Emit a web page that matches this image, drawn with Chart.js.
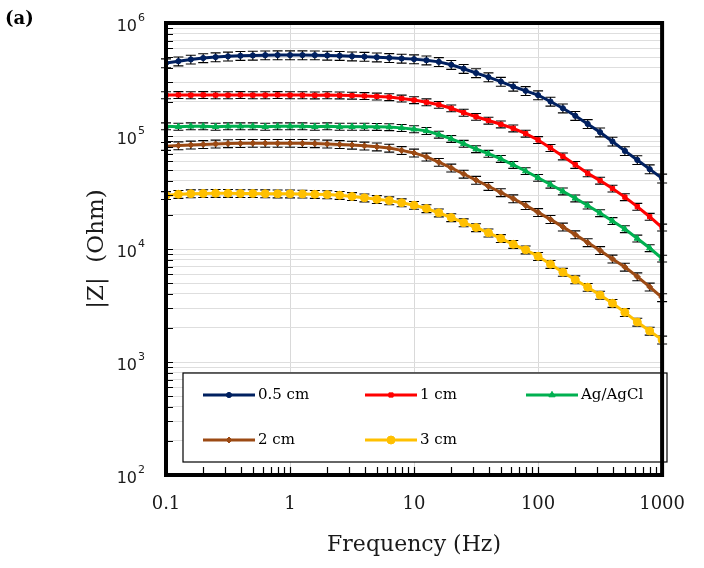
<!DOCTYPE html>
<html>
<head>
<meta charset="utf-8">
<script src="https://cdn.jsdelivr.net/npm/chart.js@4.4.0/dist/chart.umd.min.js"></script>
<style>
  html, body { margin: 0; padding: 0; background: #fff; }
</style>
</head>
<body>
<canvas id="mainChart" width="704" height="568"></canvas>
<script>
// Frecuencias (Hz), 10 puntos por década
const freqs = [0.1, 0.1259, 0.1585, 0.1995, 0.2512, 0.3162, 0.3981, 0.5012, 0.631, 0.7943,
    1, 1.259, 1.585, 1.995, 2.512, 3.162, 3.981, 5.012, 6.31, 7.943,
    10, 12.59, 15.85, 19.95, 25.12, 31.62, 39.81, 50.12, 63.1, 79.43,
    100, 125.9, 158.5, 199.5, 251.2, 316.2, 398.1, 501.2, 631, 794.3, 1000];

// |Z| (Ohm) por serie
const z05 = [442000, 459000, 476000, 490000, 499000, 507000, 513000, 516000, 519000, 520000,
    520000, 520000, 519000, 516000, 513000, 508000, 504000, 498000, 492000, 485000,
    479000, 468000, 453000, 427000, 394000, 361000, 332000, 303000, 274000, 251000,
    230000, 202000, 176000, 151000, 128000, 108000, 89500, 73800, 61400, 50900, 42200];
const z1 = [230000, 231000, 230000, 231000, 230000, 230000, 231000, 230000, 230000, 231000,
    230000, 230000, 229000, 230000, 229000, 228000, 226000, 224000, 221000, 215000,
    208000, 199000, 189000, 176000, 161000, 148000, 137000, 127000, 117000, 105000,
    92300, 78500, 66100, 55600, 46800, 40300, 34300, 28800, 23700, 19300, 15500];
const zAg = [122000, 121000, 122000, 122000, 121000, 122000, 122000, 122000, 121000, 122000,
    122000, 122000, 121000, 122000, 121000, 121000, 121000, 120500, 120000, 118000,
    115000, 111000, 103000, 94400, 85500, 76700, 69700, 62800, 55600, 49000,
    42700, 37200, 32400, 28100, 24300, 20800, 17700, 15000, 12400, 10200, 8240];
const z2 = [81100, 82200, 83400, 84300, 85100, 85700, 86100, 86300, 86300, 86300,
    86300, 86100, 85700, 85100, 84300, 83200, 81800, 80200, 78200, 74600,
    70800, 65300, 58600, 52200, 46100, 40700, 35900, 31600, 27900, 24300,
    21100, 18300, 15700, 13400, 11400, 9710, 8170, 6920, 5690, 4620, 3720];
const z3 = [29800, 30500, 30900, 31000, 31100, 31100, 31000, 31000, 30900, 30800,
    30800, 30700, 30500, 30300, 29900, 29200, 28400, 27500, 26800, 25700,
    24400, 22800, 20900, 19000, 17100, 15500, 13900, 12400, 11000, 9840,
    8610, 7330, 6240, 5350, 4590, 3910, 3310, 2750, 2260, 1880, 1570];

const seriesNames = ['0.5 cm', '1 cm', 'Ag/AgCl', '2 cm', '3 cm'];
const seriesColors = ['#002060', '#ff0000', '#00b050', '#9c4a14', '#ffc000'];
const seriesMarkers = ['circle', 'rect', 'triangle', 'rectRot', 'circle'];
const markerSizes = [2.6, 3, 3.6, 3, 4];
// error relativo (barras)
const relErr = [0.09, 0.07, 0.07, 0.08, 0.08];

// Ejes
const xMajor = [0.1, 1, 10, 100, 1000];
const xTickLabels = ['0.1', '1', '10', '100', '1000'];
const yMajor = [1e2, 1e3, 1e4, 1e5, 1e6];
const yExponents = ['2', '3', '4', '5', '6'];
const minorSteps = [2, 3, 4, 5, 6, 7, 8, 9];

function logTicks(majors) {
    let out = [];
    majors.forEach((m, i) => {
        out.push(m);
        if (i < majors.length - 1) minorSteps.forEach(s => out.push(m * s));
    });
    return out;
}
const xTickVals = logTicks(xMajor);
const yTickVals = logTicks(yMajor);

const allSeries = [z05, z1, zAg, z2, z3];

const datasets = allSeries.map((vals, k) => ({
    label: seriesNames[k],
    data: freqs.map((f, i) => ({ x: f, y: vals[i] })),
    borderColor: seriesColors[k],
    backgroundColor: seriesColors[k],
    borderWidth: 3,
    pointStyle: seriesMarkers[k],
    pointRadius: markerSizes[k],
    pointBorderWidth: 1,
    tension: 0
}));

const serif = "'DejaVu Serif', serif";

const decor = {
    id: 'decor',
    beforeDatasetsDraw(chart) {
        const ctx = chart.ctx;
        const x = chart.scales.x, y = chart.scales.y;
        ctx.save();
        ctx.strokeStyle = '#000';
        ctx.lineWidth = 1.1;
        chart.data.datasets.forEach((ds, k) => {
            const e = relErr[k];
            ds.data.forEach(p => {
                const px = x.getPixelForValue(p.x);
                const yt = y.getPixelForValue(p.y * (1 + e));
                const yb = y.getPixelForValue(p.y * (1 - e));
                ctx.beginPath();
                ctx.moveTo(px, yt); ctx.lineTo(px, yb);
                ctx.moveTo(px - 5, yt); ctx.lineTo(px + 5, yt);
                ctx.moveTo(px - 5, yb); ctx.lineTo(px + 5, yb);
                ctx.stroke();
            });
        });
        ctx.restore();
    },
    afterDraw(chart) {
        const ctx = chart.ctx;
        const a = chart.chartArea;
        const x = chart.scales.x, y = chart.scales.y;
        ctx.save();

        // marcas internas
        ctx.strokeStyle = '#000';
        ctx.lineWidth = 1.2;
        ctx.beginPath();
        yTickVals.forEach(v => {
            const py = Math.round(y.getPixelForValue(v)) + 0.5;
            ctx.moveTo(a.left, py); ctx.lineTo(a.left + 7, py);
        });
        xTickVals.forEach(v => {
            const px = Math.round(x.getPixelForValue(v)) + 0.5;
            ctx.moveTo(px, a.bottom); ctx.lineTo(px, a.bottom - 8);
        });
        ctx.stroke();

        // leyenda
        const lx = 183, ly = 373, lw = 484, lh = 89;
        ctx.fillStyle = '#fff';
        ctx.fillRect(lx, ly, lw, lh);
        ctx.lineWidth = 1.2;
        ctx.strokeStyle = '#000';
        ctx.strokeRect(lx, ly, lw, lh);
        const colX = [203, 365, 526];
        const rowY = [395, 440];
        chart.data.datasets.forEach((ds, k) => {
            const sx = colX[k % 3], sy = rowY[Math.floor(k / 3)];
            ctx.strokeStyle = ds.borderColor;
            ctx.fillStyle = ds.backgroundColor;
            ctx.lineWidth = 3;
            ctx.beginPath();
            ctx.moveTo(sx, sy); ctx.lineTo(sx + 52, sy);
            ctx.stroke();
            ctx.lineWidth = 1;
            Chart.helpers.drawPoint(ctx, { pointStyle: ds.pointStyle, radius: ds.pointRadius, rotation: 0, borderWidth: 1 }, sx + 26, sy);
            ctx.fillStyle = '#000';
            ctx.font = '15px ' + serif;
            ctx.textAlign = 'left';
            ctx.textBaseline = 'middle';
            ctx.fillText(ds.label, sx + 55, sy);
        });

        // marco
        ctx.strokeStyle = '#000';
        ctx.lineWidth = 4;
        ctx.strokeRect(a.left, a.top, a.right - a.left, a.bottom - a.top);

        // etiquetas eje Y (10^n)
        ctx.fillStyle = '#1a1a1a';
        yMajor.forEach((v, i) => {
            const py = y.getPixelForValue(v);
            ctx.font = "16px 'DejaVu Sans', sans-serif";
            ctx.textAlign = 'right';
            ctx.textBaseline = 'middle';
            ctx.fillText('10', 137, py + 4);
            ctx.font = "11px 'DejaVu Sans', sans-serif";
            ctx.textAlign = 'left';
            ctx.fillText(yExponents[i], 138, py - 5);
        });

        ctx.fillStyle = '#000';
        ctx.font = "bold 18px " + serif;
        ctx.textAlign = 'left';
        ctx.textBaseline = 'middle';
        ctx.fillText('(a)', 5, 19);
        ctx.restore();
    }
};

new Chart(document.getElementById('mainChart'), {
    type: 'line',
    data: { datasets: datasets },
    plugins: [decor],
    options: {
        responsive: false,
        animation: false,
        devicePixelRatio: 1,
        layout: { padding: { left: 0, top: 23, right: 27, bottom: 0 } },
        plugins: { legend: { display: false }, tooltip: { enabled: false } },
        scales: {
            x: {
                type: 'logarithmic',
                min: 0.1,
                max: 1000,
                afterBuildTicks: s => { s.ticks = xTickVals.map(v => ({ value: v })); },
                afterFit: s => { s.height = 93; },
                border: { display: false },
                grid: {
                    drawTicks: false,
                    color: c => (c.tick && xMajor.includes(c.tick.value)) ? '#d9d9d9' : 'rgba(0,0,0,0)'
                },
                ticks: {
                    autoSkip: false,
                    maxRotation: 0,
                    padding: 19,
                    color: '#1a1a1a',
                    font: { family: serif, size: 18 },
                    callback: v => {
                        const k = xMajor.indexOf(v);
                        return k >= 0 ? xTickLabels[k] : '';
                    }
                },
                title: {
                    display: true,
                    text: 'Frequency (Hz)',
                    color: '#1a1a1a',
                    font: { family: serif, size: 22 },
                    padding: { top: 0, bottom: 10 }
                }
            },
            y: {
                type: 'logarithmic',
                min: 100,
                max: 1e6,
                afterBuildTicks: s => { s.ticks = yTickVals.map(v => ({ value: v })); },
                afterFit: s => { s.width = 166; },
                border: { display: false },
                grid: { drawTicks: false, color: '#dedede' },
                ticks: { display: false, autoSkip: false },
                title: {
                    display: true,
                    text: '|Z|  (Ohm)',
                    color: '#1a1a1a',
                    font: { family: serif, size: 23 },
                    padding: { top: 83, bottom: 0 }
                }
            }
        }
    }
});
</script>
</body>
</html>
